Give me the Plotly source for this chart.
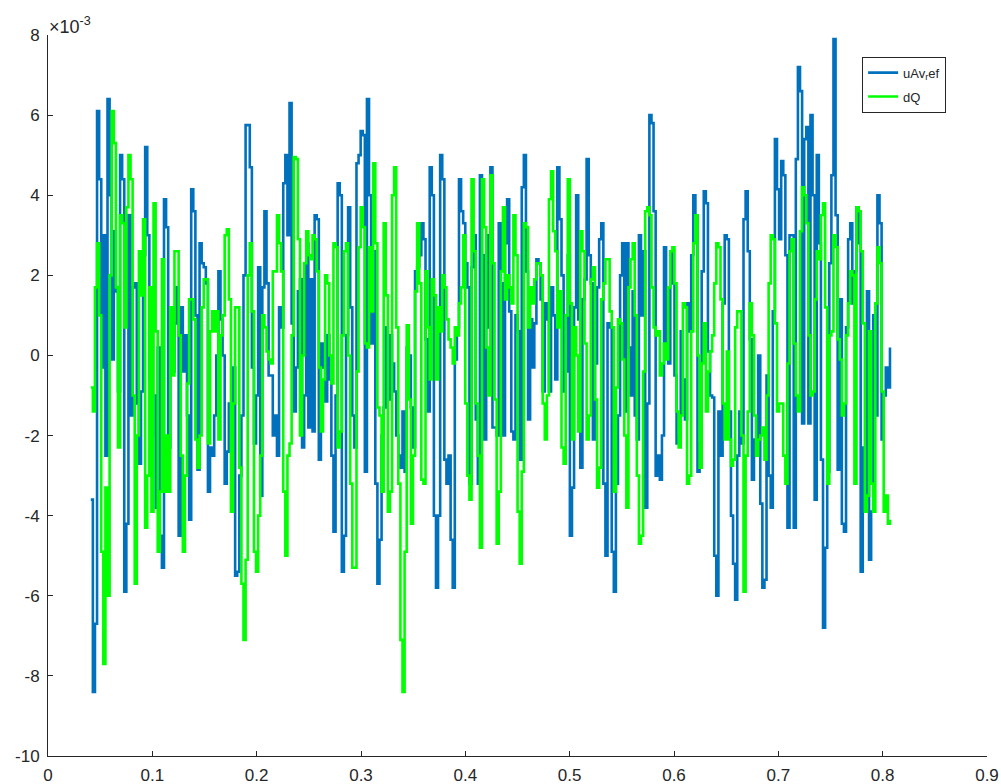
import numpy as np
import plotly.graph_objects as go

# Reference voltage deviation uAv_ref (units of 1e-3), one sample per step
uav_ref = [
    -3.6, -8.4, -6.7, 6.1, 4.4, -0.3, 3.0, -2.5, 6.4, 4.0,
    -0.1, 3.1, 1.6, -0.9, 5.0, 4.4, -5.9, -4.2, 3.5, -1.5,
    1.7, 1.8, -1.2, -2.7, -0.9, 2.5, 5.2, 3.0, -0.6, -2.0,
    -1.0, -3.8, 0.2, -4.5, -5.3, 3.9, 3.2, -2.3, 1.2, -0.4,
    0.8, 1.7, -4.5, 1.2, -0.4, 0.5, -1.5, -4.1, 4.15, 3.6,
    1.0, -2.85, 2.8, 2.3, 2.2, 1.8, -3.4, -2.3, -2.5, -1.5,
    0.0, 2.1, 0.9, 0.0,
    -3.2, -2.4, -1.2, -1.5, -0.3, -5.5, -5.4, -3.0, -1.5, 2.0,
    5.75, 5.75, 4.7, -0.3, -2.2, -1.0, 2.2, -3.5, 1.7, 3.6,
    1.8, -0.5, -0.5, -2.0, -1.5, -2.5, 1.2, 0.7, 4.3, 5.0,
    3.0, 6.3, 0.8, -1.4, -0.3, 1.6, 1.9, -2.3, -1.0, 2.8,
    -1.8, 1.9, -1.9, 3.5, 3.4, -2.6, 0.3, -0.3, -1.15, 0.5,
    -0.6, -2.5, -4.4, -1.0, 4.3, 4.0, -5.4, -4.5, 0.5, 3.7,
    1.2, -1.5, -2.3, 4.8,
    5.0, 5.6, 5.5, -2.9, 6.4, 4.0, 0.3, 2.6, -3.2, -5.7,
    -4.6, -2.0, -1.3, 0.7, -1.1, 0.5, -0.2, -0.9, -2.0, -2.5,
    -2.8, -1.4, -2.9, 0.2, 0.0, -1.3, -2.3, 2.1, 2.2, 2.5,
    3.3, 2.9, 0.4, -1.4, 4.7, 4.0, -4.0, -5.8, -4.0, 5.0,
    4.4, -2.6, -3.2, -2.5, -4.6, -5.8, -0.1, 0.7, 4.4, 3.6,
    3.3, 2.3, 1.7, -3.2, 2.2, 3.0, -1.6, -3.2, 4.5, 2.5,
    -2.1, 0.7, 3.0, 4.7,
    -1.8, -1.8, -2.0, 3.3, 1.8, -2.0, 2.8, 3.9, 1.1, -1.9,
    -2.1, 1.0, 0.6, -2.6, 4.2, 5.0, 2.1, -1.6, 0.9, -0.3,
    0.8, 2.4, 2.3, 1.4, -0.9, 1.3, 0.9, -0.9, 1.7, 1.0,
    -0.6, 4.7, 3.4, 2.0, -0.9, -0.4, 2.5, -4.5, -3.3, 1.2,
    4.0, 0.9, -2.8, 1.4, 1.9, 4.9, 2.5, 1.8, -2.1, -0.2,
    1.7, 2.9, 3.3, -3.2, -5.0, 0.8, 0.7, -4.9, -5.9, -3.2,
    -1.5, 2.0, 2.8, -1.4,
    2.8, 0.2, -1.0, 1.6, -1.5, -2.1, 3.0, 1.0, 2.6, -3.8,
    -1.2, 6.0, 5.8, 3.6, -3.0, -2.5, -3.1, -2.0, 2.7, 0.0,
    -0.2, 2.6, 1.8, -0.5, -2.2, -2.0, 0.6, -0.6, -1.6, 1.3,
    0.6, 2.5, 4.0, 3.5, -2.9, -2.2, 2.1, 4.1, 3.8, 0.1,
    -1.0, -1.05, -5.0, -6.0, -1.4, -2.5, 1.3, 3.0, 2.9, -1.4,
    -4.0, -5.2, -6.1, -2.5, -1.4, -2.2, 3.4, 4.1, 2.6, 0.4,
    -3.1, -2.1, -2.1, 0.0,
    -3.7, -5.8, -5.6, -0.5, -3.0, -3.8, 1.1, 5.4, 4.15, 2.9,
    4.85, 4.5, 2.5, -4.3, 3.0, 3.0, -4.3, 4.9, 7.2, 6.6,
    -1.7, 5.4, 5.7, -1.7, 6.0, 4.0, -3.6, 5.0, 2.8, -2.6,
    -6.8, -4.8, -2.9, 2.3, 4.5, 7.9, 3.5, -2.85, 1.4, -4.2,
    -4.4, 0.7, 2.9, 3.3, 1.3, 2.1, 3.7, 2.8, -5.4, -2.3,
    -3.6, 1.6, -5.1, -3.9, 1.0, -1.5, 4.0, 3.3, -2.1, -1.0,
    -0.3, -0.8, 0.2,
]

# Reactive power deviation dQ (units of 1e-3)
dq = [
    -0.8, -1.4, 1.7, 2.8, 1.0, -4.9, -7.7, -3.3, -6.0, 2.0,
    6.1, 5.3, 1.7, -2.3, 3.5, 3.3, 0.7, 3.7, 5.0, 4.4,
    -1.0, -5.7, -2.0, 2.6, 1.5, 3.4, -4.3, -3.0, 1.7, -3.9,
    3.8, 0.6, -4.9, -3.4, 2.4, -3.4, -2.0, -3.4, 1.2, -0.5,
    2.6, 2.6, 0.5, -2.5, -4.9, -3.0, -0.7, 1.4, 1.4, 0.9,
    -2.1, -2.8, -2.0, 1.2, 1.9, 1.9, -2.2, 0.6, 1.1, 0.6,
    1.1, -2.1, 0.5, 1.0,
    3.0, 3.15, 1.4, -3.9, -1.2, 1.2, 1.2, -2.8, -5.7, -7.1,
    -5.1, 2.0, 2.8, 1.1, -4.9, -5.4, -4.0, -2.5, 1.0, 0.7,
    0.1, -0.1, -0.2, 2.1, 2.1, 3.5, 2.8, 2.1, -3.4, -5.0,
    -2.5, -2.2, 0.5, 4.95, 4.9, 2.9, -2.0, 0.0, 2.3, 3.1,
    2.5, 2.4, 3.0, 2.9, 2.1, -0.3, -1.9, -0.6, 2.0, 1.8,
    0.0, -0.7, 2.8, 2.7, -2.3, -1.9, 0.5, 2.6, 2.8, 0.0,
    -3.2, -5.3, -5.3, -0.4,
    2.7, 3.7, 3.2, 0.3, 0.2, 2.7, 1.1, 4.8, 2.8, -1.3,
    -1.5, -3.4, 3.3, 1.5, -3.9, -3.4, 4.0, 4.7, 0.7, -3.2,
    -7.1, -8.4, -4.9, 0.75, -1.1, -4.2, -2.5, 1.6, 3.3, 1.8,
    -3.1, -3.2, 2.1, 0.7, -0.6, 1.9, 1.5, -0.6, 1.2, 0.6,
    2.0, 1.7, 0.9, 0.4, 0.2, -0.2, 0.7, 0.5, 1.3, 1.7,
    3.0, -1.2, -3.0, -3.6, 4.4, 2.6, -1.2, -2.5, -4.8, 4.4,
    3.2, 0.2, -1.0, 4.5,
    2.3, -1.1, -4.7, -3.4, 2.1, 3.7, 1.4, 2.0, 1.7, 1.3,
    3.5, 2.5, -3.9, -5.2, -2.9, 3.3, 3.2, 0.7, 1.7, 1.3,
    1.9, 2.3, 2.3, 2.0, -1.2, -2.1, -1.0, 3.9, 4.6, 3.1,
    2.6, 0.7, 1.6, -2.3, -2.7, 1.0, 4.4, 1.3, -2.1, 0.7,
    0.0, -1.9, 3.1, 2.6, 0.3, -2.1, -1.5, 1.9, 2.2, -1.1,
    -3.3, -2.8, 1.4, 1.8, 2.4, 2.4, 1.1, 0.7, -3.4, -0.8,
    0.9, 0.8, -0.1, -2.0,
    -3.8, 1.7, 2.4, 2.8, 1.0, -3.0, -4.7, -4.5, -0.4, 3.6,
    3.7, 3.5, 1.7, 0.7, 0.5, 0.6, -0.5, -0.2, 0.3, -0.1,
    1.7, 2.6, 2.7, 1.8, -1.4, -2.3, -1.5, 1.3, 1.2, -3.2,
    -3.0, 0.6, 2.8, 3.5, 0.0, -2.8, -0.2, 0.8, -1.4, -0.4,
    0.1, 0.5, 1.8, 2.8, 2.7, 1.4, -1.2, -2.1, 0.1, -2.1,
    -2.75, -2.6, 0.7, 1.1, 1.1, -2.0, -5.9, -2.5, -1.4, 1.3,
    0.5, -1.5, -2.5, -2.1,
    -2.0, -1.8, -2.6, -1.0, 1.8, 3.0, 2.9, 0.8, -1.4, -1.2,
    -1.2, -2.5, -3.2, -0.2, 2.6, 2.9, 0.3, -1.0, -1.4, 3.1,
    4.2, 4.0, 3.3, 0.5, -1.0, -0.9, 1.4, 2.6, 2.4, 3.5,
    3.8, 1.2, -3.2, 0.5, 0.6, 3.0, 2.7, 0.4, -0.1, -1.5,
    -1.2, 0.5, 1.3, 2.1, 2.0, -3.2, 3.7, 3.6, 2.6, 0.8,
    -3.9, -3.5, 0.6, -3.2, -3.9, 1.3, 2.7, 2.3, -0.9, -3.9,
    -3.5, -4.2, -4.1,
]

t_start, t_end = 0.041, 0.807
x_ticks = [0, 0.1, 0.2, 0.3, 0.4, 0.5, 0.6, 0.7, 0.8, 0.9]
x_tick_text = ["0", "0.1", "0.2", "0.3", "0.4", "0.5", "0.6", "0.7", "0.8", "0.9"]
y_ticks = [-10, -8, -6, -4, -2, 0, 2, 4, 6, 8]
y_scale = 1e-3

t = np.linspace(t_start, t_end, len(uav_ref))
axis_col = "#262626"
font_family = "Liberation Sans, Arial, sans-serif"

fig = go.Figure()
fig.add_trace(go.Scatter(
    x=t, y=np.array(uav_ref) * y_scale, mode="lines",
    line=dict(color="#0072BD", width=2.6, shape="hv"),
    name="uAv<sub>r</sub>ef", legendgroup="a",
))
fig.add_trace(go.Scatter(
    x=t, y=np.array(dq) * y_scale, mode="lines",
    line=dict(color="#00FF00", width=2.6, shape="hv"),
    name="dQ", legendgroup="b",
))

axis_style = dict(
    showgrid=False, zeroline=False, showline=True, linecolor=axis_col,
    linewidth=1, ticks="inside", ticklen=5, tickwidth=1, tickcolor=axis_col,
    tickfont=dict(family=font_family, size=17, color=axis_col),
    mirror=False, automargin=False,
)

fig.update_layout(
    template="none",
    width=1001, height=784,
    margin=dict(l=48, r=14, t=35, b=28, autoexpand=False),
    plot_bgcolor="white", paper_bgcolor="white",
    font=dict(family=font_family, size=17, color=axis_col),
    showlegend=True,
    legend=dict(
        x=0.867, y=0.97, xanchor="left", yanchor="top",
        bordercolor=axis_col, borderwidth=1, bgcolor="white",
        font=dict(family=font_family, size=13, color=axis_col), tracegroupgap=4,
    ),
    xaxis=dict(range=[0, 0.9], tickvals=x_ticks, ticktext=x_tick_text,
               ticklabelstandoff=4, **axis_style),
    yaxis=dict(range=[-10 * y_scale, 8 * y_scale],
               tickvals=[v * y_scale for v in y_ticks],
               ticktext=[str(v) for v in y_ticks],
               ticklabelstandoff=4, **axis_style),
)

fig.add_annotation(
    text="×10<sup>-3</sup>", xref="paper", yref="paper", x=0, y=1,
    xanchor="left", yanchor="bottom", showarrow=False, xshift=-1, yshift=-4,
    font=dict(family=font_family, size=18, color=axis_col),
)

fig.write_html("out.html")
